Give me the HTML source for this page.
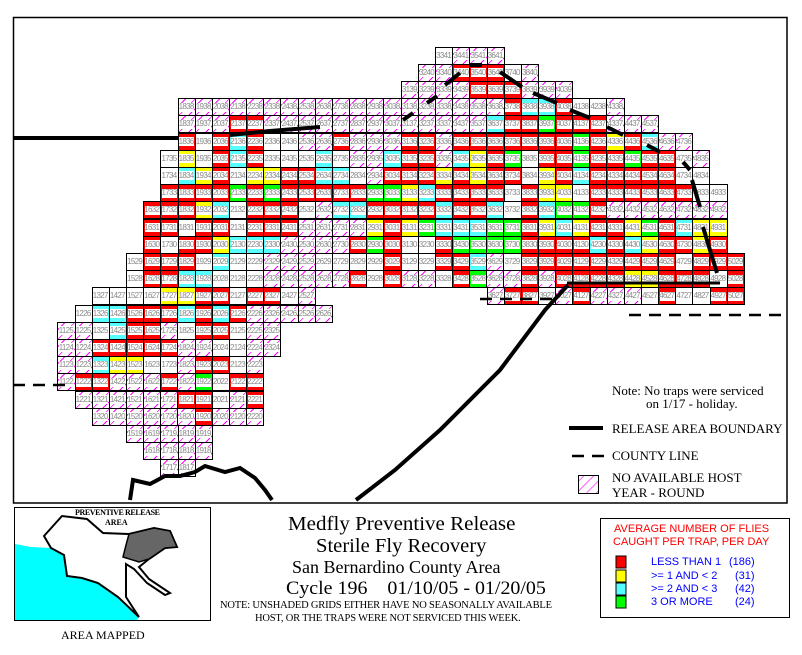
<!DOCTYPE html>
<html><head><meta charset="utf-8"><style>
body{margin:0;width:802px;height:655px;background:#fff;position:relative;overflow:hidden;font-family:"Liberation Sans",sans-serif}
.row{position:absolute;display:flex;height:18.2px}
.row i{flex:none;width:18.17px;height:18.2px;margin-right:-1px;border:1px solid #000;box-sizing:border-box;font-style:normal;font-size:8px;color:#8a8a8a;line-height:16px;text-align:center;letter-spacing:-0.7px;overflow:hidden;text-indent:-1px}
.w{background:linear-gradient(#fff,#fff) center/15px 9px no-repeat,#fff}
.r{background:linear-gradient(#fff,#fff) center/15px 9px no-repeat,#f00}
.y{background:linear-gradient(#fff,#fff) center/15px 9px no-repeat,#ff0}
.c{background:linear-gradient(#fff,#fff) center/15px 9px no-repeat,#55ffff}
.g{background:linear-gradient(#fff,#fff) center/15px 9px no-repeat,#0f0}
.h{background:linear-gradient(#fff,#fff) center/15px 9px no-repeat,repeating-linear-gradient(135deg,#fff 0 4px,#f0f 4px 5px,#fff 5px 7px)}
.t{position:absolute;white-space:nowrap;font-family:"Liberation Serif",serif;color:#000}
.lg{position:absolute;font-size:11px;white-space:nowrap}
</style></head><body>
<svg width="802" height="655" style="position:absolute;left:0;top:0">
<rect x="13.5" y="17.5" width="773.5" height="485.5" fill="none" stroke="#000" stroke-width="1.5"/>
<rect x="14.5" y="507.5" width="196" height="113" fill="none" stroke="#000" stroke-width="1"/>
<rect x="600.5" y="518.5" width="189" height="99" fill="none" stroke="#000" stroke-width="1"/>
</svg>

<div class="row" style="top:46.5px;left:435.1px"><i class="w">3341</i><i class="h">3441</i><i class="h">3541</i><i class="h">3641</i></div>
<div class="row" style="top:63.7px;left:417.93px"><i class="h">3240</i><i class="h">3340</i><i class="r">3440</i><i class="r">3540</i><i class="r">3640</i><i class="w">3740</i><i class="h">3840</i></div>
<div class="row" style="top:80.9px;left:400.76px"><i class="h">3139</i><i class="h">3239</i><i class="h">3339</i><i class="h">3439</i><i class="r">3539</i><i class="r">3639</i><i class="r">3739</i><i class="h">3839</i><i class="h">3939</i><i class="h">4039</i></div>
<div class="row" style="top:98.1px;left:177.55px"><i class="h">1838</i><i class="h">1938</i><i class="h">2038</i><i class="h">2138</i><i class="h">2238</i><i class="h">2338</i><i class="h">2438</i><i class="h">2538</i><i class="h">2638</i><i class="h">2738</i><i class="h">2838</i><i class="h">2938</i><i class="h">3038</i><i class="h">3138</i><i class="h">3238</i><i class="h">3338</i><i class="h">3438</i><i class="h">3538</i><i class="h">3638</i><i class="r">3738</i><i class="c">3838</i><i class="c">3938</i><i class="r">4038</i><i class="w">4138</i><i class="w">4238</i><i class="h">4338</i></div>
<div class="row" style="top:115.3px;left:177.55px"><i class="h">1837</i><i class="h">1937</i><i class="h">2037</i><i class="r">2137</i><i class="r">2237</i><i class="h">2337</i><i class="h">2437</i><i class="h">2537</i><i class="h">2637</i><i class="h">2737</i><i class="h">2837</i><i class="h">2937</i><i class="h">3037</i><i class="h">3137</i><i class="h">3237</i><i class="h">3337</i><i class="h">3437</i><i class="h">3537</i><i class="c">3637</i><i class="r">3737</i><i class="r">3837</i><i class="g">3937</i><i class="r">4037</i><i class="r">4137</i><i class="r">4237</i><i class="h">4337</i><i class="h">4437</i><i class="h">4537</i></div>
<div class="row" style="top:132.5px;left:177.55px"><i class="r">1836</i><i class="w">1936</i><i class="r">2036</i><i class="c">2136</i><i class="r">2236</i><i class="w">2336</i><i class="w">2436</i><i class="h">2536</i><i class="h">2636</i><i class="r">2736</i><i class="h">2836</i><i class="h">2936</i><i class="h">3036</i><i class="r">3136</i><i class="r">3236</i><i class="h">3336</i><i class="r">3436</i><i class="r">3536</i><i class="r">3636</i><i class="r">3736</i><i class="r">3836</i><i class="r">3936</i><i class="r">4036</i><i class="g">4136</i><i class="r">4236</i><i class="y">4336</i><i class="r">4436</i><i class="c">4536</i><i class="h">4636</i><i class="h">4736</i></div>
<div class="row" style="top:149.7px;left:160.38px"><i class="w">1735</i><i class="y">1835</i><i class="w">1935</i><i class="r">2035</i><i class="c">2135</i><i class="r">2235</i><i class="w">2335</i><i class="w">2435</i><i class="w">2535</i><i class="c">2635</i><i class="w">2735</i><i class="h">2835</i><i class="h">2935</i><i class="c">3035</i><i class="r">3135</i><i class="r">3235</i><i class="h">3335</i><i class="c">3435</i><i class="y">3535</i><i class="r">3635</i><i class="g">3735</i><i class="w">3835</i><i class="r">3935</i><i class="r">4035</i><i class="g">4135</i><i class="r">4235</i><i class="r">4335</i><i class="g">4435</i><i class="r">4535</i><i class="r">4635</i><i class="w">4735</i><i class="h">4835</i></div>
<div class="row" style="top:166.9px;left:160.38px"><i class="w">1734</i><i class="c">1834</i><i class="y">1934</i><i class="r">2034</i><i class="w">2134</i><i class="y">2234</i><i class="y">2334</i><i class="r">2434</i><i class="r">2534</i><i class="c">2634</i><i class="c">2734</i><i class="w">2834</i><i class="h">2934</i><i class="r">3034</i><i class="r">3134</i><i class="r">3234</i><i class="y">3334</i><i class="r">3434</i><i class="y">3534</i><i class="r">3634</i><i class="r">3734</i><i class="w">3834</i><i class="y">3934</i><i class="r">4034</i><i class="c">4134</i><i class="r">4234</i><i class="r">4334</i><i class="r">4434</i><i class="r">4534</i><i class="r">4634</i><i class="w">4734</i><i class="w">4834</i></div>
<div class="row" style="top:184.1px;left:160.38px"><i class="r">1733</i><i class="r">1833</i><i class="r">1933</i><i class="r">2033</i><i class="g">2133</i><i class="r">2233</i><i class="g">2333</i><i class="r">2433</i><i class="r">2533</i><i class="r">2633</i><i class="r">2733</i><i class="r">2833</i><i class="g">2933</i><i class="g">3033</i><i class="y">3133</i><i class="c">3233</i><i class="r">3333</i><i class="r">3433</i><i class="r">3533</i><i class="r">3633</i><i class="w">3733</i><i class="r">3833</i><i class="y">3933</i><i class="y">4033</i><i class="w">4133</i><i class="r">4233</i><i class="r">4333</i><i class="r">4433</i><i class="r">4533</i><i class="r">4633</i><i class="r">4733</i><i class="w">4833</i><i class="w">4933</i></div>
<div class="row" style="top:201.3px;left:143.21px"><i class="r">1632</i><i class="r">1732</i><i class="r">1832</i><i class="y">1932</i><i class="c">2032</i><i class="w">2132</i><i class="r">2232</i><i class="r">2332</i><i class="r">2432</i><i class="w">2532</i><i class="h">2632</i><i class="c">2732</i><i class="c">2832</i><i class="r">2932</i><i class="r">3032</i><i class="r">3132</i><i class="r">3232</i><i class="c">3332</i><i class="r">3432</i><i class="r">3532</i><i class="c">3632</i><i class="w">3732</i><i class="r">3832</i><i class="c">3932</i><i class="g">4032</i><i class="g">4132</i><i class="r">4232</i><i class="h">4332</i><i class="h">4432</i><i class="h">4532</i><i class="h">4632</i><i class="h">4732</i><i class="h">4832</i><i class="h">4932</i></div>
<div class="row" style="top:218.5px;left:143.21px"><i class="r">1631</i><i class="r">1731</i><i class="w">1831</i><i class="r">1931</i><i class="r">2031</i><i class="w">2131</i><i class="r">2231</i><i class="r">2331</i><i class="r">2431</i><i class="h">2531</i><i class="h">2631</i><i class="h">2731</i><i class="h">2831</i><i class="y">2931</i><i class="r">3031</i><i class="y">3131</i><i class="g">3231</i><i class="c">3331</i><i class="c">3431</i><i class="c">3531</i><i class="g">3631</i><i class="g">3731</i><i class="r">3831</i><i class="y">3931</i><i class="c">4031</i><i class="y">4131</i><i class="r">4231</i><i class="r">4331</i><i class="y">4431</i><i class="g">4531</i><i class="r">4631</i><i class="c">4731</i><i class="y">4831</i><i class="y">4931</i></div>
<div class="row" style="top:235.7px;left:143.21px"><i class="r">1630</i><i class="w">1730</i><i class="r">1830</i><i class="r">1930</i><i class="y">2030</i><i class="c">2130</i><i class="c">2230</i><i class="c">2330</i><i class="h">2430</i><i class="h">2530</i><i class="h">2630</i><i class="h">2730</i><i class="r">2830</i><i class="g">2930</i><i class="r">3030</i><i class="w">3130</i><i class="w">3230</i><i class="r">3330</i><i class="g">3430</i><i class="g">3530</i><i class="g">3630</i><i class="g">3730</i><i class="r">3830</i><i class="r">3930</i><i class="r">4030</i><i class="r">4130</i><i class="c">4230</i><i class="r">4330</i><i class="c">4430</i><i class="y">4530</i><i class="r">4630</i><i class="r">4730</i><i class="y">4830</i><i class="r">4930</i></div>
<div class="row" style="top:252.9px;left:126.04px"><i class="w">1529</i><i class="r">1629</i><i class="r">1729</i><i class="r">1829</i><i class="w">1929</i><i class="c">2029</i><i class="w">2129</i><i class="w">2229</i><i class="h">2329</i><i class="h">2429</i><i class="h">2529</i><i class="w">2629</i><i class="w">2729</i><i class="w">2829</i><i class="w">2929</i><i class="r">3029</i><i class="w">3129</i><i class="w">3229</i><i class="r">3329</i><i class="r">3429</i><i class="c">3529</i><i class="h">3629</i><i class="w">3729</i><i class="r">3829</i><i class="r">3929</i><i class="r">4029</i><i class="r">4129</i><i class="r">4229</i><i class="r">4329</i><i class="r">4429</i><i class="r">4529</i><i class="r">4629</i><i class="w">4729</i><i class="r">4829</i><i class="r">4929</i><i class="r">5029</i></div>
<div class="row" style="top:270.1px;left:126.04px"><i class="w">1528</i><i class="r">1628</i><i class="r">1728</i><i class="c">1828</i><i class="c">1928</i><i class="w">2028</i><i class="w">2128</i><i class="w">2228</i><i class="h">2328</i><i class="h">2428</i><i class="h">2528</i><i class="h">2628</i><i class="h">2728</i><i class="r">2828</i><i class="w">2928</i><i class="r">3028</i><i class="h">3128</i><i class="h">3228</i><i class="w">3328</i><i class="r">3428</i><i class="g">3528</i><i class="h">3628</i><i class="h">3728</i><i class="r">3828</i><i class="h">3928</i><i class="r">4028</i><i class="r">4128</i><i class="r">4228</i><i class="r">4328</i><i class="y">4428</i><i class="y">4528</i><i class="r">4628</i><i class="r">4728</i><i class="r">4828</i><i class="w">4928</i><i class="r">5028</i></div>
<div class="row" style="top:287.3px;left:91.7px"><i class="w">1327</i><i class="w">1427</i><i class="w">1527</i><i class="w">1627</i><i class="y">1727</i><i class="y">1827</i><i class="r">1927</i><i class="r">2027</i><i class="w">2127</i><i class="r">2227</i><i class="r">2327</i><i class="w">2427</i><i class="h">2527</i></div>
<div class="row" style="top:287.3px;left:486.61px"><i class="h">3627</i><i class="r">3727</i><i class="r">3827</i><i class="w">3927</i><i class="h">4027</i><i class="r">4127</i><i class="h">4227</i><i class="h">4327</i><i class="h">4427</i><i class="w">4527</i><i class="r">4627</i><i class="w">4727</i><i class="w">4827</i><i class="r">4927</i><i class="r">5027</i></div>
<div class="row" style="top:304.5px;left:74.53px"><i class="w">1226</i><i class="c">1326</i><i class="c">1426</i><i class="r">1526</i><i class="r">1626</i><i class="r">1726</i><i class="c">1826</i><i class="r">1926</i><i class="c">2026</i><i class="r">2126</i><i class="h">2226</i><i class="h">2326</i><i class="h">2426</i><i class="h">2526</i><i class="h">2626</i></div>
<div class="row" style="top:321.7px;left:57.36px"><i class="h">1125</i><i class="h">1225</i><i class="w">1325</i><i class="c">1425</i><i class="r">1525</i><i class="r">1625</i><i class="h">1725</i><i class="w">1825</i><i class="r">1925</i><i class="r">2025</i><i class="w">2125</i><i class="h">2225</i><i class="h">2325</i></div>
<div class="row" style="top:338.9px;left:57.36px"><i class="h">1124</i><i class="h">1224</i><i class="r">1324</i><i class="r">1424</i><i class="r">1524</i><i class="r">1624</i><i class="r">1724</i><i class="h">1824</i><i class="h">1924</i><i class="w">2024</i><i class="w">2124</i><i class="h">2224</i><i class="h">2324</i></div>
<div class="row" style="top:356.1px;left:57.36px"><i class="h">1123</i><i class="h">1223</i><i class="c">1323</i><i class="y">1423</i><i class="y">1523</i><i class="w">1623</i><i class="w">1723</i><i class="h">1823</i><i class="r">1923</i><i class="r">2023</i><i class="w">2123</i><i class="h">2223</i></div>
<div class="row" style="top:373.3px;left:57.36px"><i class="h">1122</i><i class="r">1222</i><i class="r">1322</i><i class="h">1422</i><i class="h">1522</i><i class="h">1622</i><i class="r">1722</i><i class="h">1822</i><i class="g">1922</i><i class="w">2022</i><i class="r">2122</i><i class="r">2222</i></div>
<div class="row" style="top:390.5px;left:74.53px"><i class="h">1221</i><i class="h">1321</i><i class="h">1421</i><i class="h">1521</i><i class="h">1621</i><i class="h">1721</i><i class="r">1821</i><i class="r">1921</i><i class="w">2021</i><i class="h">2121</i><i class="r">2221</i></div>
<div class="row" style="top:407.7px;left:91.7px"><i class="h">1320</i><i class="h">1420</i><i class="h">1520</i><i class="h">1620</i><i class="h">1720</i><i class="h">1820</i><i class="r">1920</i><i class="h">2020</i><i class="h">2120</i><i class="h">2220</i></div>
<div class="row" style="top:424.9px;left:126.04px"><i class="h">1519</i><i class="h">1619</i><i class="h">1719</i><i class="h">1819</i><i class="h">1919</i></div>
<div class="row" style="top:442.1px;left:143.21px"><i class="h">1618</i><i class="h">1718</i><i class="h">1818</i><i class="h">1918</i></div>
<div class="row" style="top:459.3px;left:160.38px"><i class="h">1717</i><i class="h">1817</i></div>

<svg width="802" height="655" style="position:absolute;left:0;top:0">
<g fill="none" stroke="#000" stroke-width="4">
<line x1="13" y1="138" x2="178" y2="138"/>
<polyline points="230,135 270,131 320,127"/>
<polyline points="567,283 720,283" stroke-width="3"/>
<polyline points="568,285 545,310 500,370 440,430 395,470 356,500"/>
<polyline points="130,500 133,480 150,484 165,476 180,476 195,472 205,466 225,472 240,468 255,478 265,490 272,500" stroke-width="4"/>
<line x1="403" y1="120" x2="413" y2="113"/>
<line x1="427" y1="103" x2="437" y2="96"/>
<line x1="445" y1="85" x2="460" y2="73"/>
<line x1="470" y1="65" x2="482" y2="65"/>
<line x1="500" y1="72" x2="522" y2="87"/>
<line x1="533" y1="93" x2="557" y2="103"/>
<line x1="570" y1="110" x2="590" y2="118"/>
<line x1="607" y1="127" x2="623" y2="135"/>
<line x1="647" y1="145" x2="660" y2="152"/>
<line x1="683" y1="162" x2="690" y2="170"/>
<line x1="692" y1="180" x2="700" y2="207"/>
<line x1="703" y1="227" x2="717" y2="273"/>
</g>
<g stroke="#000" stroke-width="2.5" stroke-dasharray="12,8" fill="none">
<line x1="13" y1="385" x2="70" y2="385"/>
<line x1="629" y1="315" x2="787" y2="315"/>
<line x1="480" y1="299" x2="560" y2="299"/>
<line x1="572" y1="456" x2="606" y2="456"/>
</g>
<line x1="569" y1="428" x2="603" y2="428" stroke="#000" stroke-width="4"/>
<defs><pattern id="hp" width="7" height="7" patternUnits="userSpaceOnUse" patternTransform="rotate(45)"><rect width="7" height="7" fill="#fff"/><line x1="0" y1="0" x2="0" y2="7" stroke="#f0f" stroke-width="1.2"/></pattern></defs>
<rect x="578.5" y="475.5" width="20" height="18" fill="url(#hp)" stroke="#000"/>
<polygon points="15,544 31,547 51,548 64,555 67,576 82,578 98,583 118,597 139,617 137,620 15,620" fill="#00ffff"/>
<polygon points="44,536 62,516 87,519 103,533 129,534 154,528 170,531 177,547 165,548 149,559 139,567 149,579 170,593 165,595 147,583 134,569 126,564 126,597 139,617 118,597 98,583 82,578 67,576 64,555 51,548" fill="#fff" stroke="#000" stroke-width="2"/>
<polygon points="129,534 154,528 170,531 177,547 165,548 149,559 139,562 123,557 126,545" fill="#666" stroke="#000" stroke-width="1.5"/>
<rect x="616" y="556" width="10" height="12" fill="#f00" stroke="#000"/>
<rect x="616" y="570" width="10" height="12" fill="#ff0" stroke="#000"/>
<rect x="616" y="583" width="10" height="12" fill="#55ffff" stroke="#000"/>
<rect x="616" y="596" width="10" height="12" fill="#0f0" stroke="#000"/>
</svg>

<div class="t" style="left:612px;top:383px;font-size:13px">Note: No traps were serviced</div>
<div class="t" style="left:646px;top:396px;font-size:13px">on 1/17 - holiday.</div>
<div class="t" style="left:612px;top:421px;font-size:13px">RELEASE AREA BOUNDARY</div>
<div class="t" style="left:612px;top:448px;font-size:13px">COUNTY LINE</div>
<div class="t" style="left:612px;top:470px;font-size:13px">NO AVAILABLE HOST</div>
<div class="t" style="left:612px;top:485px;font-size:13px">YEAR - ROUND</div>

<div class="t" style="left:75px;top:508px;font-size:8px;font-weight:bold;letter-spacing:-0.4px">PREVENTIVE RELEASE</div>
<div class="t" style="left:105px;top:518px;font-size:8px;font-weight:bold">AREA</div>
<div class="t" style="left:61px;top:628px;font-size:12px">AREA MAPPED</div>

<div class="t" style="left:288px;top:513px;font-size:20px;transform:scaleX(1.05);transform-origin:left">Medfly Preventive Release</div>
<div class="t" style="left:316px;top:535px;font-size:20px;transform:scaleX(1.03);transform-origin:left">Sterile Fly Recovery</div>
<div class="t" style="left:292px;top:557px;font-size:18px">San Bernardino County Area</div>
<div class="t" style="left:286px;top:578px;font-size:19px;transform:scaleX(1.05);transform-origin:left">Cycle 196&nbsp;&nbsp;&nbsp; 01/10/05 - 01/20/05</div>
<div class="t" style="left:220px;top:600px;font-size:10.5px;letter-spacing:-0.2px">NOTE: UNSHADED GRIDS EITHER HAVE NO SEASONALLY AVAILABLE</div>
<div class="t" style="left:255px;top:613px;font-size:10.5px;letter-spacing:-0.2px">HOST, OR THE TRAPS WERE NOT SERVICED THIS WEEK.</div>

<div class="lg" style="left:614px;top:523px;color:#f00">AVERAGE NUMBER OF FLIES</div>
<div class="lg" style="left:613px;top:536px;color:#f00">CAUGHT PER TRAP, PER DAY</div>
<div class="lg" style="left:651px;top:556px;color:#00f">LESS THAN 1</div><div class="lg" style="left:729px;top:556px;color:#00f">(186)</div>
<div class="lg" style="left:651px;top:570px;color:#00f">&gt;= 1 AND &lt; 2</div><div class="lg" style="left:735px;top:570px;color:#00f">(31)</div>
<div class="lg" style="left:651px;top:583px;color:#00f">&gt;= 2 AND &lt; 3</div><div class="lg" style="left:735px;top:583px;color:#00f">(42)</div>
<div class="lg" style="left:651px;top:596px;color:#00f">3 OR MORE</div><div class="lg" style="left:735px;top:596px;color:#00f">(24)</div>
</body></html>
